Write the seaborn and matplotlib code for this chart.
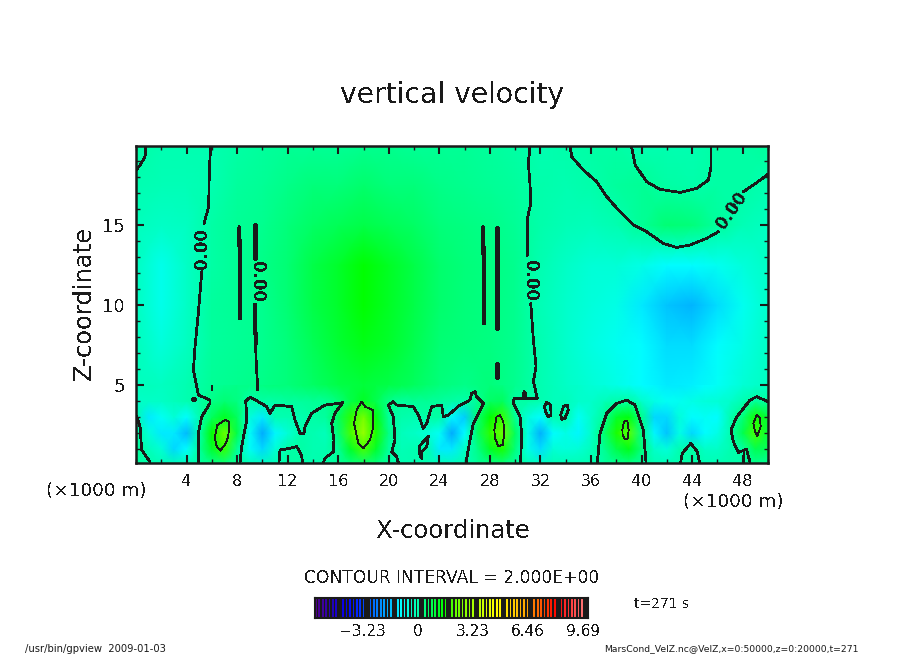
import numpy as np
import matplotlib
matplotlib.use("Agg")
import matplotlib.pyplot as plt
from matplotlib.colors import LinearSegmentedColormap
from matplotlib.ticker import MultipleLocator
import seaborn as sns

# tone values, x = 0..50 km every km, lower layer
low_z0 = [.1, .02, -.05, -.1, -.1, .05, .2, .3, .05, -.1, -.2, -.05, .05, .03, -.05, .03, .1, .3, .4, .3, .05, -.05, -.05, -.05, -.1, -.15,
          -.05, .1, .25, .3, .05, -.1, -.2, -.1, -.05, -.1, -.05, .05, .2, .25, .05, -.1, -.1, 0, .05, -.05, -.05, -.02, .02, .15, .1]
low_z1 = [.2, -.2, -.5, -1.4, -1.0, .1, 1.1, 1.9, .2, -.9, -1.4, -.5, .05, .05, -.1, -.05, .2, 1.2, 2.0, 1.1, .1, -.15, -.1, .02, -1.2, -1.2,
          -.3, .3, 1.2, 1.7, .4, -.7, -1.3, -.5, -.6, -.5, -.2, .2, .9, 1.3, .4, -.4, -.6, -.1, .08, -.3, -.3, -.05, .05, .8, .7]
low_z2 = [.1, -.6, -1.2, -1.2, -1.7, -.1, 1.5, 2.3, .9, -.9, -1.9, -1.1, -.5, -.02, -.1, -.2, .5, 2.0, 3.0, 1.7, .3, -.2, -.35, -.5, -.9, -1.9,
          -1.0, .6, 1.8, 2.4, .7, -.7, -1.8, -1.0, -.7, -1.1, -.4, .5, 1.7, 2.1, .3, -1.1, -1.6, -.7, -1.4, -1.0, -.7, -.05, .8, 2.0, 1.0]
low_z3 = [0, -1.2, -.9, -.5, -1.0, -.1, .7, 1.2, .7, -.6, -1.2, -.1, -.1, -.05, .03, .1, .7, 1.8, 2.5, 1.4, .1, -.02, -.05, .05, .05, -1.1,
          -1.5, .5, 1.5, 1.9, .2, -.6, -1.0, -.05, 0, -.9, -.4, .1, 1.1, 1.4, .3, -1.4, -1.4, -.6, -1.0, -.9, -1.0, -.05, .4, 1.6, 1.0]
low_z4 = [-.3, -.3, -.3, -.2, -.1, .05, .3, .5, .35, 0, .05, .08, .1, .12, .15, .2, .4, .9, 1.2, .8, .3, .1, .15, .15, .1, .03,
          .02, .2, .6, .7, .05, .05, -.1, -.2, -.2, -.4, -.4, -.2, -.02, .03, -.4, -.7, -.9, -.8, -.7, -.6, -.5, -.4, -.1, .1, .05]
low_z5 = [-.2, -.22, -.25, -.2, -.1, .05, .2, .25, .3, .32, .35, .42, .45, .55, .65, .75, .85, .95, 1.0, .95, .9, .8, .7, .55, .4, .35,
          .3, .35, .4, .35, .25, .1, -.1, -.2, -.3, -.4, -.5, -.6, -.7, -.85, -1.0, -1.1, -1.2, -1.18, -1.15, -1.0, -.9, -.7, -.5, -.38, -.25]

# tone values, x = 0..50 km every 2 km, upper layer
high_z5 = [-.2, -.25, -.1, .2, .25, .3, .45, .65, .85, 1.0, .9, .7, .4, .3, .4, .25, -.1, -.3, -.5, -.7, -1.0, -1.2, -1.15, -.9, -.5, -.25]
high_z75 = [-.2, -.55, -.25, .12, .15, .25, .45, .75, 1.05, 1.3, 1.1, .8, .5, .4, .35, .25, -.1, -.4, -.65, -.8, -1.0, -1.3, -1.3, -1.0, -.7, -.35]
high_z10 = [-.25, -.75, -.3, .1, .15, .25, .5, .85, 1.15, 1.5, 1.2, .85, .55, .4, .35, .25, -.15, -.4, -.6, -.7, -1.2, -1.6, -1.75, -1.3, -.8, -.4]
high_z125 = [-.25, -.75, -.3, .05, .15, .3, .5, .85, 1.15, 1.5, 1.2, .85, .55, .4, .35, .25, -.1, -.35, -.5, -.5, -.7, -1.0, -1.0, -.8, -.6, -.3]
high_z15 = [-.2, -.35, -.25, .05, .15, .25, .4, .6, .75, .9, .75, .6, .45, .35, .3, .2, -.02, -.15, -.2, -.05, .15, .5, .45, .1, -.15, -.25]
high_z175 = [-.1, -.15, -.15, -.05, .1, .2, .3, .4, .45, .55, .45, .4, .3, .25, .2, .1, -.03, -.05, -.02, .1, .15, .05, .02, .08, .03, -.05]
high_z20 = [.05, -.05, -.05, -.05, .05, .1, .15, .2, .2, .25, .25, .2, .2, .15, .1, .05, -.05, -.03, .05, .05, -.05, -.1, -.1, .03, .08, .1]

# contour lines: (x km, z km)
zero_lines = [
    [(.79, 19.94), (.71, 19.27), (.32, 18.75), (0, 18.4)],
    [(5.91, 19.94), (5.8, 18.44), (5.75, 16.15), (5.38, 15.1)],
    [(5.2, 12.08), (4.93, 9.48), (4.67, 7.4), (4.54, 5.94), (4.93, 4.38), (5.85, 4.06), (5.85, 3.85), (5.2, 3.02), (4.93, 1.98), (4.93, .125)],
    [(9.41, 15.06), (9.41, 12.9)],
    [(9.41, 9.8), (9.49, 6.77), (9.63, 4.69)],
    [(8.23, .15), (8.36, 1.15), (8.76, 2.81), (8.7, 3.85), (8.62, 3.96), (9.02, 4.23), (9.68, 3.96), (10.34, 3.65), (10.6, 3.23), (11.0, 3.75),
     (12.32, 3.65), (12.58, 2.81), (12.97, 1.98), (13.29, 1.94), (13.37, 2.4), (13.9, 3.23), (14.95, 3.75), (16.0, 3.85), (16.35, 3.9),
     (15.74, 3.23), (15.48, 2.6), (15.66, 1.56), (15.61, .83), (14.95, .42), (14.82, .15)],
    [(0, 3.125), (.32, 2.4), (.45, .94), (1.11, .2)],
    [(11.31, .15), (11.39, .94), (12.18, 1.04), (12.71, 1.15), (13.1, .625), (13.18, .15)],
    [(20.75, .15), (20.62, .52), (20.23, .83), (20.49, 1.56), (20.36, 3.02), (19.96, 3.75), (20.36, 3.96), (20.62, 3.75), (21.94, 3.65),
     (22.34, 3.12), (22.73, 2.29), (23.0, 2.6), (23.39, 3.65), (24.18, 3.75), (24.31, 3.02), (24.71, 3.12), (25.63, 3.75), (25.9, 3.85),
     (26.42, 4.06), (26.56, 4.48), (26.82, 4.58), (26.95, 4.27), (27.48, 3.85), (26.69, 2.6), (26.42, 1.56), (26.11, .15)],
    [(22.47, .52), (22.42, 1.15), (22.73, 1.46), (23.13, 1.81), (23.0, 1.15), (22.6, .83), (22.6, .42), (22.47, .52)],
    [(31.17, 19.94), (31.04, 18.85), (31.17, 17.6), (31.23, 16.35), (30.96, 15.4), (30.96, 13.1)],
    [(31.23, 10.1), (31.44, 7.81), (31.65, 6.15), (31.44, 5.21), (31.75, 4.17), (30.77, 4.17), (30.7, 4.58), (30.77, 4.17), (29.91, 4.17),
     (29.85, 3.85), (30.38, 3.02), (30.51, 1.98), (30.43, .15)],
    [(32.3, 3.65), (32.49, 3.92), (32.81, 3.75), (32.83, 3.12), (32.62, 3.02), (32.41, 3.33), (32.3, 3.65)],
    [(33.6, 3.12), (33.81, 3.65), (34.12, 3.75), (34.2, 3.44), (33.94, 2.92), (33.68, 2.85), (33.6, 3.12)],
    [(34.34, 19.94), (34.47, 19.27), (35.39, 18.44), (36.44, 17.71), (37.24, 16.77), (38.29, 15.83), (39.35, 15.0), (40.4, 14.58), (41.72, 13.85),
     (42.77, 13.6), (43.83, 13.75), (45.15, 14.17), (46.07, 14.58)],
    [(48.05, 17.08), (48.84, 17.5), (50, 18.17)],
    [(39.2, 19.94), (39.49, 18.75), (40.4, 17.71), (41.45, 17.23), (43.04, 17.04), (44.36, 17.29), (45.28, 17.81), (45.49, 18.65), (45.49, 19.94)],
    [(36.5, .15), (36.71, 1.98), (37.24, 3.23), (38.03, 3.85), (38.82, 4.06), (39.48, 3.75), (40.14, 2.19), (40.35, .15)],
    [(43.09, .15), (43.22, .73), (43.88, 1.35), (44.41, .83), (44.59, .15)],
    [(50, 3.96), (49.1, 4.27), (48.58, 4.06), (47.53, 3.02), (47.07, 2.19), (47.26, 1.46), (47.65, .79), (48.31, .98), (48.58, .15)],
    [(48.08, .85), (48.08, .15)],
    [(5.99, 4.96), (5.99, 4.69)],
]
thick_lines = [
    [(8.18, 14.85), (8.23, 9.17)],
    [(9.41, 15.06), (9.41, 12.9)],
    [(9.41, 10.0), (9.47, 7.6)],
    [(27.48, 14.85), (27.53, 8.85)],
    [(28.53, 14.85), (28.53, 8.48)],
    [(28.53, 6.35), (28.53, 5.42)],
    [(30.7, 4.58), (30.7, 4.17)],
    [(4.45, 4.15), (4.7, 4.15)],
]
two_lines = [
    [(6.25, 1.77), (6.43, 2.5), (7.04, 2.81), (7.38, 2.71), (7.3, 1.77), (7.04, 1.25), (6.65, .9), (6.33, 1.25), (6.25, 1.77)],
    [(17.25, 2.6), (17.46, 3.44), (17.85, 3.96), (18.11, 3.65), (18.72, 3.44), (18.78, 2.4), (18.51, 1.56), (17.99, 1.04), (17.59, 1.35), (17.25, 2.6)],
    [(28.35, 2.19), (28.53, 3.02), (28.8, 3.12), (29.06, 2.71), (29.14, 1.98), (29.01, 1.25), (28.66, 1.19), (28.4, 1.67), (28.35, 2.19)],
    [(38.48, 2.19), (38.61, 2.71), (38.87, 2.77), (38.98, 2.19), (38.9, 1.67), (38.69, 1.6), (38.5, 1.87), (38.48, 2.19)],
    [(48.84, 2.6), (49.1, 3.12), (49.37, 2.92), (49.42, 2.4), (49.16, 1.81), (48.97, 2.08), (48.84, 2.6)],
]
line_labels = [(5.27, 13.54, 90), (9.6, 11.46, -90), (31.17, 11.56, -90), (47.13, 15.94, 55)]

x_ticks = [4, 8, 12, 16, 20, 24, 28, 32, 36, 40, 44, 48]
z_ticks = [5, 10, 15]
bar_ticks = [-3.23, 0, 3.23, 6.46, 9.69]
bar_labels = ["\u22123.23", "0", "3.23", "6.46", "9.69"]

VMIN, VMAX = -6.05, 9.98
tone_anchors = [(-6.05, "#50008c"), (-5.0, "#1e00be"), (-4.2, "#0000ff"), (-2.5, "#0078ff"), (-1.65, "#00beff"), (-1.0, "#00ffff"),
                (0, "#00ffaa"), (1.5, "#00ff00"), (2.2, "#64ff00"), (4.6, "#ffff00"), (6.5, "#ffa000"), (8.2, "#ff0000"), (9.98, "#ff8282")]

sns.set_theme(style="white")
plt.rcParams["font.family"] = ["DejaVu Sans"]
plt.rcParams["text.antialiased"] = False

tone_cmap = LinearSegmentedColormap.from_list(
    "tone", [((v - VMIN) / (VMAX - VMIN), c) for v, c in tone_anchors])

W, H = 904, 654
fig = plt.figure(figsize=(W / 100, H / 100), dpi=100)

def px_axes(left, top, right, bottom, **kw):
    return fig.add_axes([left / W, (H - bottom) / H, (right - left) / W, (bottom - top) / H], **kw)

def put(px, py, s, size, **kw):
    fig.text(px / W, 1 - py / H, s, fontsize=size, ha="center", va="center", color="k", **kw)

# tone layers, two heatmaps because the rows are spaced differently
ax_low = px_axes(136, 385, 768, 463)
low = np.array([low_z0, low_z1, low_z2, low_z3, low_z4, low_z5])
sns.heatmap(low, ax=ax_low, cmap=tone_cmap, vmin=VMIN, vmax=VMAX, cbar=False,
            xticklabels=False, yticklabels=False, shading="gouraud")
ax_low.set_xlim(0, 50)
ax_low.set_ylim(.125, 5)
ax_low.axis("off")

ax_high = px_axes(136, 146, 768, 385)
high = np.array([high_z5, high_z75, high_z10, high_z125, high_z15, high_z175, high_z20])
sns.heatmap(high, ax=ax_high, cmap=tone_cmap, vmin=VMIN, vmax=VMAX, cbar=False,
            xticklabels=False, yticklabels=False, shading="gouraud")
ax_high.set_xlim(0, 25)
ax_high.set_ylim(0, (19.94 - 5) / 2.5)
ax_high.axis("off")

# frame and contours on top
ax = px_axes(136, 146, 768, 463, facecolor="none")

def draw_line(points, lw):
    xs, zs = zip(*points)
    sns.lineplot(x=list(xs), y=list(zs), ax=ax, sort=False, estimator=None, color="k", linewidth=lw, antialiased=False)

for line in zero_lines:
    draw_line(line, 1.25)
for line in thick_lines:
    draw_line(line, 2.2)
for line in two_lines:
    draw_line(line, .6)
for x, z, rot in line_labels:
    ax.text(x, z, "0.00", rotation=rot, rotation_mode="anchor", ha="center", va="center", fontsize=12, weight="bold", color="k")

ax.set_xlim(0, 50)
ax.set_ylim(.125, 19.94)
ax.set_xticks(x_ticks)
ax.set_yticks(z_ticks)
ax.xaxis.set_minor_locator(MultipleLocator(2))
ax.yaxis.set_minor_locator(MultipleLocator(1))
ax.tick_params(which="major", direction="in", length=6, width=1.5, top=True, right=True, bottom=True, left=True, colors="k")
ax.tick_params(which="minor", direction="in", length=3, width=1, top=True, right=True, bottom=True, left=True, colors="k")
ax.tick_params(axis="x", which="major", labelsize=11.5, pad=8)
ax.tick_params(axis="y", which="major", labelsize=13, pad=8)
for side in ax.spines.values():
    side.set_visible(True)
    side.set_color("k")
    side.set_linewidth(1.8)

# striped colour bar, every other cell left out so the black shows through
cax = px_axes(315, 598, 588, 618, facecolor="k")
stripes = np.linspace(VMIN, VMAX, 160)[None, :]
gaps = ((np.arange(160) % 2 == 1) | (np.arange(160) % 16 == 14))[None, :]
sns.heatmap(stripes, ax=cax, cmap=tone_cmap, vmin=VMIN, vmax=VMAX, cbar=False, mask=gaps,
            xticklabels=False, yticklabels=False, linewidths=0)
cax.set_facecolor("k")
for side in cax.spines.values():
    side.set_visible(True)
    side.set_color("k")
    side.set_linewidth(1.5)

for value, label in zip(bar_ticks, bar_labels):
    put(315 + (value - VMIN) / (VMAX - VMIN) * 273, 632, label, 11)

put(452, 95, "vertical velocity", 20.3)
put(453, 531, "X-coordinate", 17.5)
put(84, 303, "Z-coordinate", 17.4, rotation=90)
put(96, 491, "(\u00d71000 m)", 13.2)
put(733, 502, "(\u00d71000 m)", 13.2)
put(452, 578, "CONTOUR INTERVAL = 2.000E+00", 12.3)
put(662, 604, "t=271 s", 10)
put(95, 649, "/usr/bin/gpview  2009-01-03", 7.2, antialiased=True)
put(731, 649, "MarsCond_VelZ.nc@VelZ,x=0:50000,z=0:20000,t=271", 6.65, antialiased=True)

fig.savefig("out.png", dpi=100, facecolor="white")
